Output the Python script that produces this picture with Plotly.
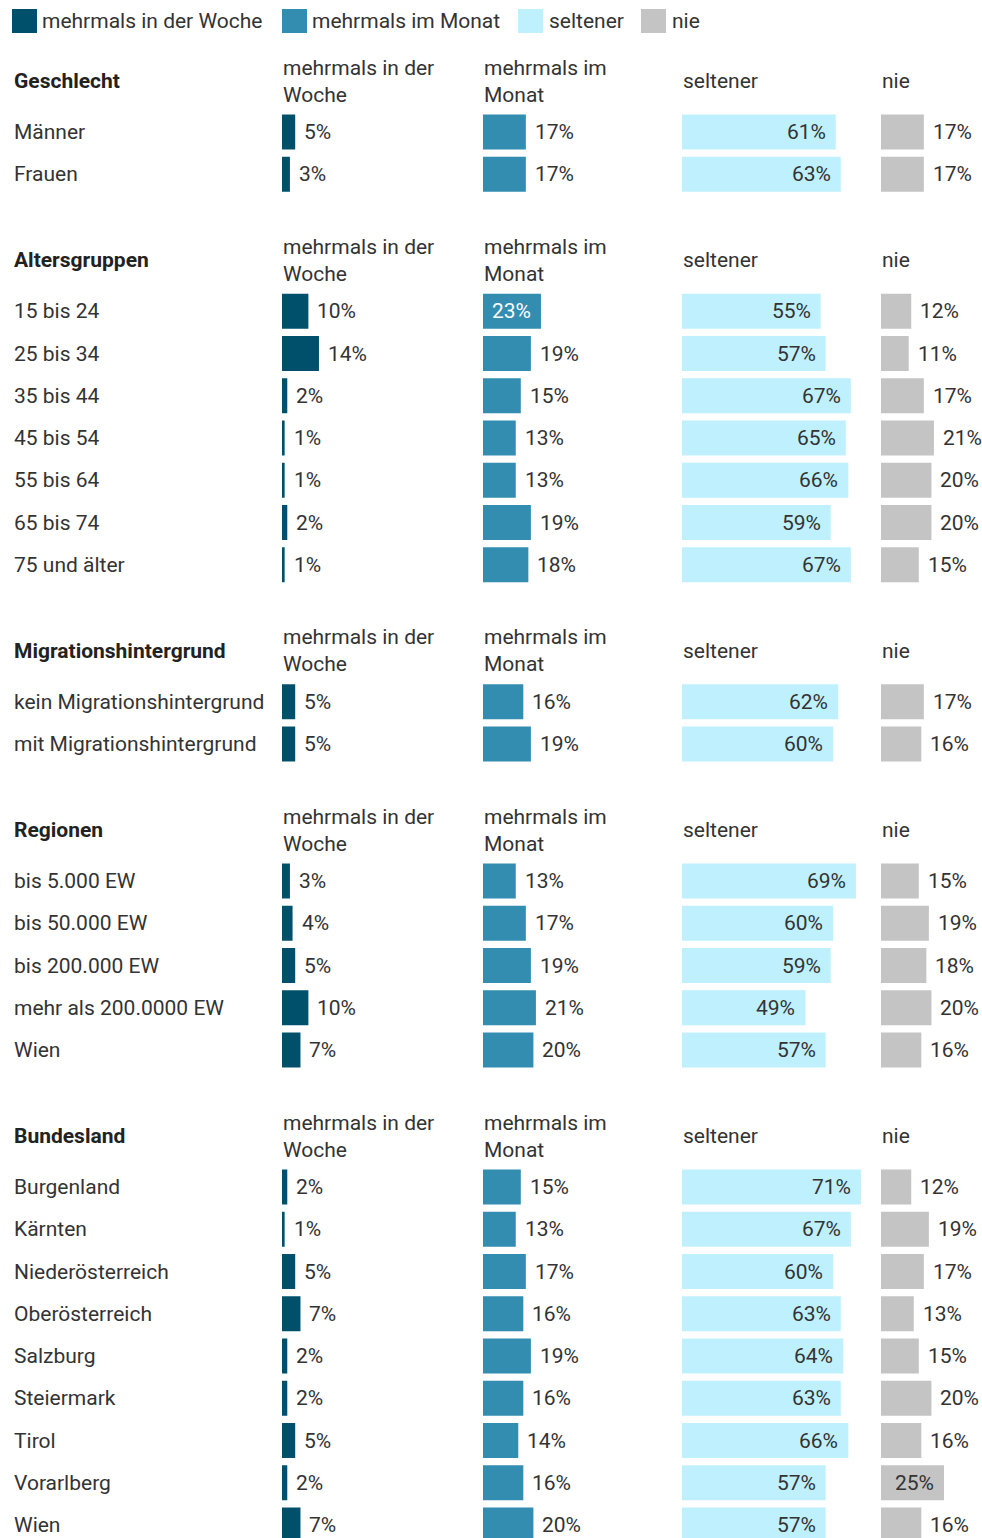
import plotly.graph_objects as go

# ---------------- data ----------------
series_names = ["mehrmals in der Woche", "mehrmals im Monat", "seltener", "nie"]
column_headers = ["mehrmals in der<br>Woche", "mehrmals im<br>Monat", "seltener", "nie"]

group_titles = ["Geschlecht", "Altersgruppen", "Migrationshintergrund", "Regionen", "Bundesland"]

geschlecht_labels = ["Männer", "Frauen"]
geschlecht_woche = [5, 3]
geschlecht_monat = [17, 17]
geschlecht_seltener = [61, 63]
geschlecht_nie = [17, 17]

alter_labels = ["15 bis 24", "25 bis 34", "35 bis 44", "45 bis 54", "55 bis 64", "65 bis 74", "75 und älter"]
alter_woche = [10, 14, 2, 1, 1, 2, 1]
alter_monat = [23, 19, 15, 13, 13, 19, 18]
alter_seltener = [55, 57, 67, 65, 66, 59, 67]
alter_nie = [12, 11, 17, 21, 20, 20, 15]

migration_labels = ["kein Migrationshintergrund", "mit Migrationshintergrund"]
migration_woche = [5, 5]
migration_monat = [16, 19]
migration_seltener = [62, 60]
migration_nie = [17, 16]

regionen_labels = ["bis 5.000 EW", "bis 50.000 EW", "bis 200.000 EW", "mehr als 200.0000 EW", "Wien"]
regionen_woche = [3, 4, 5, 10, 7]
regionen_monat = [13, 17, 19, 21, 20]
regionen_seltener = [69, 60, 59, 49, 57]
regionen_nie = [15, 19, 18, 20, 16]

bundesland_labels = ["Burgenland", "Kärnten", "Niederösterreich", "Oberösterreich", "Salzburg",
                     "Steiermark", "Tirol", "Vorarlberg", "Wien"]
bundesland_woche = [2, 1, 5, 7, 2, 2, 5, 2, 7]
bundesland_monat = [15, 13, 17, 16, 19, 16, 14, 16, 20]
bundesland_seltener = [71, 67, 60, 63, 64, 63, 66, 57, 57]
bundesland_nie = [12, 19, 17, 13, 15, 20, 16, 25, 16]

groups = [
    (geschlecht_labels, [geschlecht_woche, geschlecht_monat, geschlecht_seltener, geschlecht_nie]),
    (alter_labels, [alter_woche, alter_monat, alter_seltener, alter_nie]),
    (migration_labels, [migration_woche, migration_monat, migration_seltener, migration_nie]),
    (regionen_labels, [regionen_woche, regionen_monat, regionen_seltener, regionen_nie]),
    (bundesland_labels, [bundesland_woche, bundesland_monat, bundesland_seltener, bundesland_nie]),
]

# ---------------- style / layout ----------------
W, H = 982, 1538
FONT = "Roboto"
FS = 21
TXT = "#333333"
colors = ["#01506b", "#338db1", "#bff0fd", "#c4c4c4"]
inside_text_colors = ["#ffffff", "#ffffff", "#333333", "#333333"]
col_start_px = [282, 483, 682, 881]
col_width_px = [190, 190, 190, 101]
px_per_pct = [2.64, 2.52, 2.52, 2.52]
INSIDE_MIN = 22
LABEL_X = 12

first_header_y = 81
header_to_row = 51
row_pitch = 42.25
group_gap = 86
bar_h = 35

# compute row positions
header_ys, row_ys, row_labels = [], [], []
vals = [[], [], [], []]
y = first_header_y
for labels, cols in groups:
    header_ys.append(y)
    ry = [y + header_to_row + i * row_pitch for i in range(len(labels))]
    row_ys.extend(ry)
    row_labels.extend(labels)
    for c in range(4):
        vals[c].extend(cols[c])
    y = ry[-1] + group_gap

fig = go.Figure()
annotations = []
shapes = []

for c in range(4):
    ax = "x" if c == 0 else f"x{c+1}"
    fig.add_trace(go.Bar(
        x=vals[c], y=row_ys, orientation="h", width=bar_h,
        marker=dict(color=colors[c], line=dict(width=0)),
        name=series_names[c], xaxis=ax, yaxis="y", showlegend=False,
        hoverinfo="x+name",
    ))
    for v, ry in zip(vals[c], row_ys):
        inside = v >= INSIDE_MIN
        annotations.append(dict(
            x=v, y=ry, xref=ax, yref="y", text=f"{v}%", showarrow=False,
            xanchor="right" if inside else "left", yanchor="middle",
            xshift=-8 if inside else 7,
            font=dict(family=FONT, size=FS, color=inside_text_colors[c] if inside else TXT),
        ))

layout_axes = {}
for c in range(4):
    key = "xaxis" if c == 0 else f"xaxis{c+1}"
    d0 = col_start_px[c] / W
    d1 = (col_start_px[c] + col_width_px[c]) / W
    layout_axes[key] = dict(domain=[d0, min(d1, 1.0)], range=[0, col_width_px[c] / px_per_pct[c]],
                            visible=False, anchor="y", fixedrange=True)

# row labels
for lab, ry in zip(row_labels, row_ys):
    annotations.append(dict(x=LABEL_X / W, y=ry, xref="paper", yref="y", text=lab, showarrow=False,
                            xanchor="left", yanchor="middle",
                            font=dict(family=FONT, size=FS, color=TXT)))

# group titles and column headers
for title, hy in zip(group_titles, header_ys):
    annotations.append(dict(x=LABEL_X / W, y=hy, xref="paper", yref="y", text=f"<b>{title}</b>",
                            showarrow=False, xanchor="left", yanchor="middle",
                            font=dict(family=FONT, size=FS, color="#222222")))
    for c in range(4):
        annotations.append(dict(x=(col_start_px[c] - 1) / W, y=hy, xref="paper", yref="y",
                                text=column_headers[c], showarrow=False, xanchor="left",
                                yanchor="middle", align="left",
                                font=dict(family=FONT, size=FS, color=TXT)))

# legend (manual)
legend_key_x = [12, 282, 518, 641]
legend_text_x = [40, 310, 547, 670]
for c in range(4):
    shapes.append(dict(type="rect", xref="paper", yref="y",
                       x0=legend_key_x[c] / W, x1=(legend_key_x[c] + 25) / W, y0=9, y1=33,
                       fillcolor=colors[c], line=dict(width=0)))
    annotations.append(dict(x=legend_text_x[c] / W, y=21, xref="paper", yref="y",
                            text=series_names[c], showarrow=False, xanchor="left", yanchor="middle",
                            font=dict(family=FONT, size=FS, color=TXT)))

fig.update_layout(
    width=W, height=H,
    margin=dict(l=0, r=0, t=0, b=0),
    paper_bgcolor="white", plot_bgcolor="white",
    yaxis=dict(range=[H, 0], visible=False, fixedrange=True, domain=[0, 1]),
    annotations=annotations, shapes=shapes,
    showlegend=False,
    **layout_axes,
)

fig.write_html("out.html", config={"displayModeBar": False},
               post_script="document.body.style.margin='0';document.body.style.overflow='hidden';")
